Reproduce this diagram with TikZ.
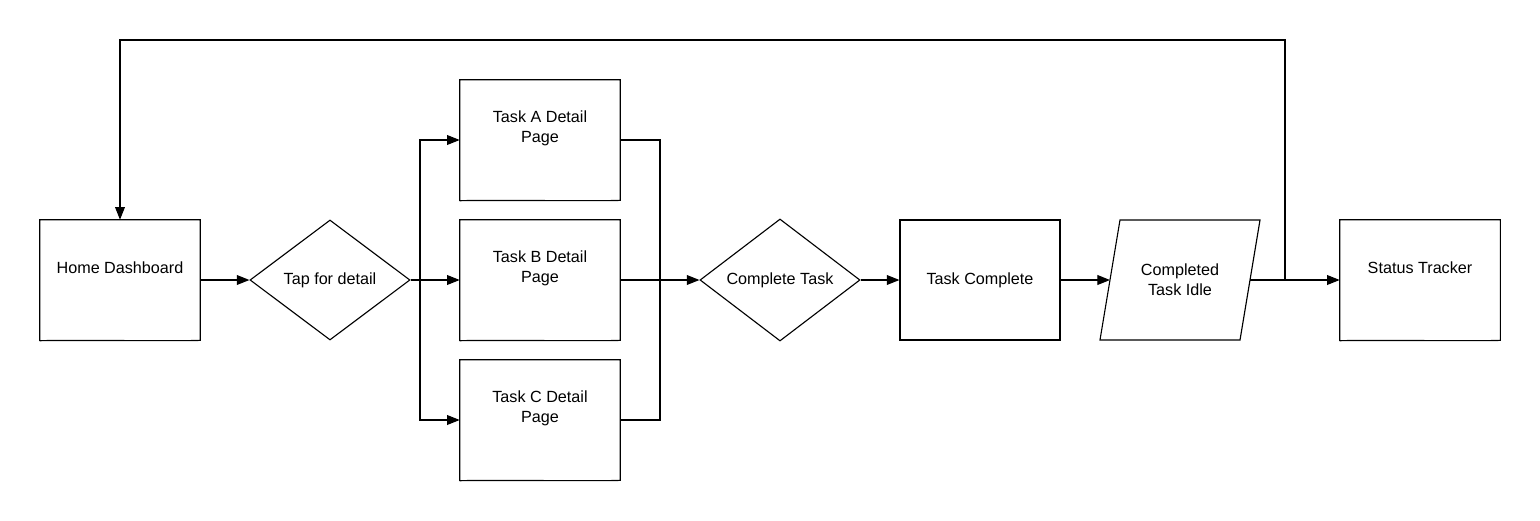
\documentclass[tikz,border=0pt]{standalone}
\usepackage{fontspec}
\setmainfont{Liberation Sans}
\usetikzlibrary{arrows.meta,shapes.geometric}
\tikzset{
  box/.style = {rectangle, minimum width = 4cm, minimum height = 3cm, inner sep = 0pt,
    align = center, font = \fontsize{11.5}{14}\selectfont},
  dec/.style = {box, diamond, draw, thick},
  link/.style = {thick, -{Triangle[length = 9pt, width = 7pt]}},
  line/.style = {thick}
}
% wavy-bottom document outline around a named box
\newcommand{\docwave}[1]{%
  \draw[thick] (#1.south west) ++(0, 0.5) -- (#1.north west) -- (#1.north east)
    -- (#1.south east)
    .. controls +(-1.6, 0.9) and +(1.6, -0.9) .. ($(#1.south west) + (0, 0.5)$);}
\usetikzlibrary{calc}
\begin{document}
\begin{tikzpicture}[x = 0.025cm, y = -0.025cm]
  \useasboundingbox (0, 0) rectangle (1540, 520);

  \node[box] (home) at (120, 280) {};
  \node[box, font = \fontsize{11.5}{14}\selectfont] at (120, 268) {Home Dashboard};
  \docwave{home}
  \node[dec] (tap) at (330, 280) {Tap for detail};

  \node[box] (taskA) at (540, 140) {};
  \node[box] at (540, 128) {Task A Detail\\Page};
  \docwave{taskA}
  \node[box] (taskB) at (540, 280) {};
  \node[box] at (540, 268) {Task B Detail\\Page};
  \docwave{taskB}
  \node[box] (taskC) at (540, 420) {};
  \node[box] at (540, 408) {Task C Detail\\Page};
  \docwave{taskC}

  \node[dec] (complete) at (780, 280) {Complete Task};
  \node[box, draw, thick] (done) at (980, 280) {Task Complete};

  \node[box] (idle) at (1180, 280) {Completed\\Task Idle};
  \draw[thick] (1120, 220) -- (1260, 220) -- (1240, 340) -- (1100, 340) -- cycle;
  \coordinate (idleL) at (1110, 280);
  \coordinate (idleR) at (1250, 280);

  \node[box] (status) at (1420, 280) {};
  \node[box] at (1420, 268) {Status Tracker};
  \docwave{status}

  \draw[link] (home.east) -- (tap.west);
  \draw[link] (tap.east) -- (taskB.west);
  \draw[link] (tap.east) -- (420, 280) |- (taskA.west);
  \draw[link] (tap.east) -- (420, 280) |- (taskC.west);
  \draw[line] (taskA.east) -| (660, 280);
  \draw[line] (taskC.east) -| (660, 280);
  \draw[link] (taskB.east) -- (complete.west);
  \draw[link] (complete.east) -- (done.west);
  \draw[link] (done.east) -- (idleL);
  \draw[link] (idleR) -- (status.west);
  \draw[link] (1285, 280) -- (1285, 40) -| (home.north);
\end{tikzpicture}
\end{document}
